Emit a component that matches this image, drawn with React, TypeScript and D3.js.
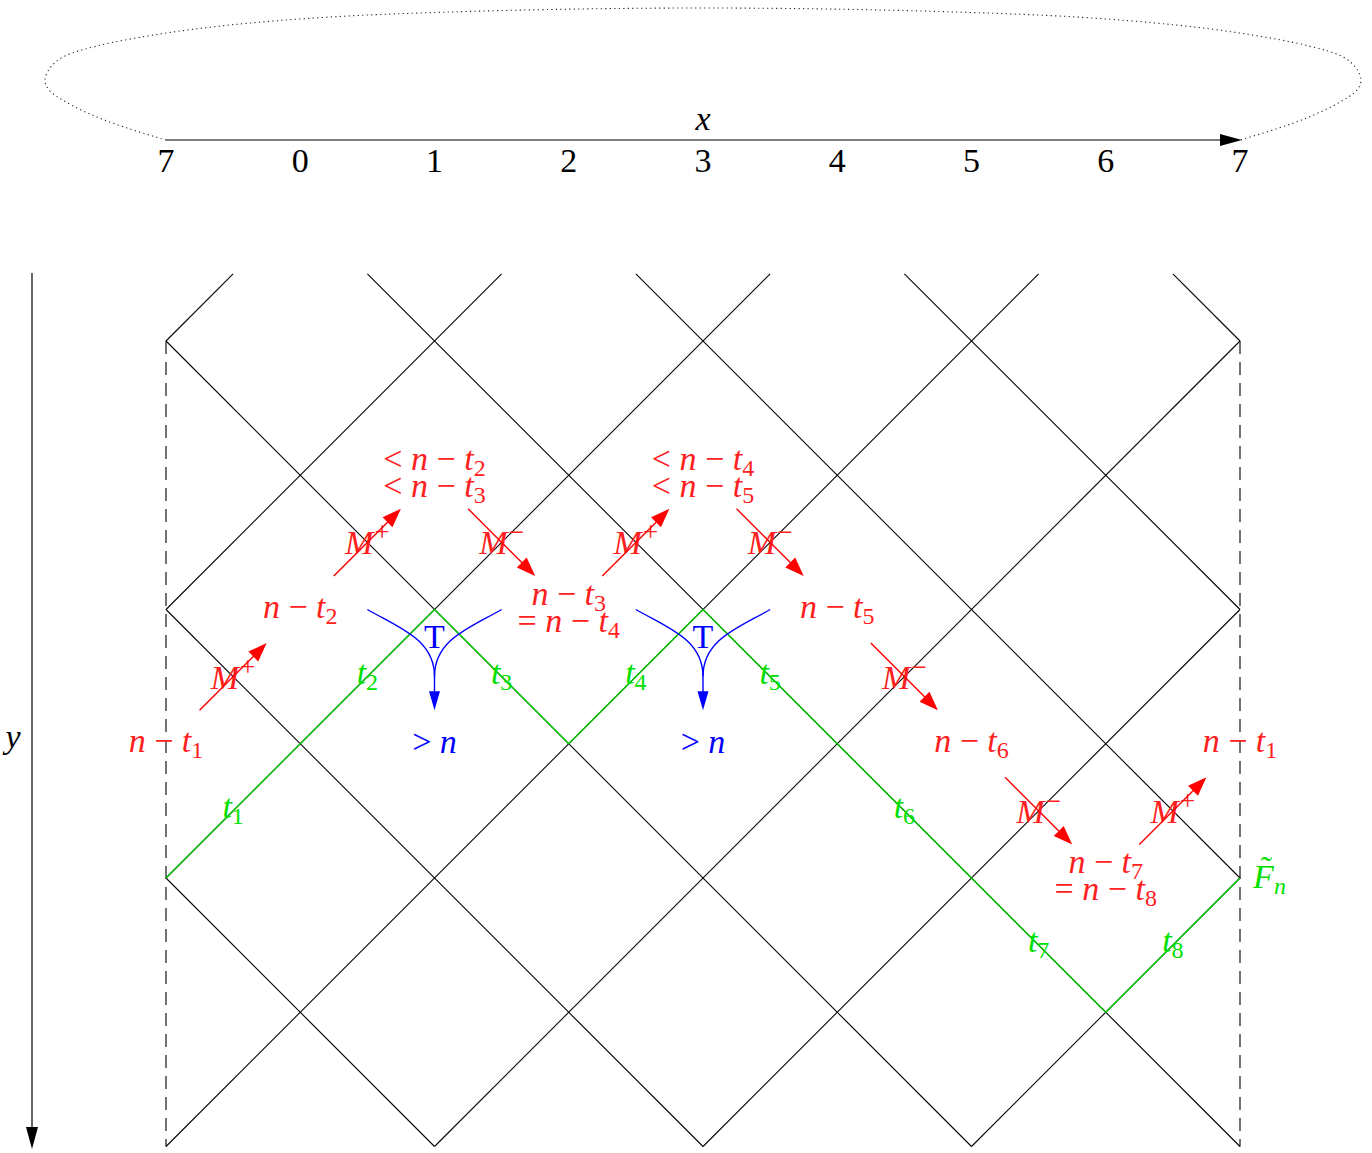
import * as d3 from "d3";

// top axis
const xTickLabels = ["7", "0", "1", "2", "3", "4", "5", "6", "7"];

// green path through the lattice (grid units) and its segment labels t_i
const greenPoints: [number, number][] = [
  [0, 4], [1, 3], [2, 2], [3, 3], [4, 2], [5, 3], [6, 4], [7, 5], [8, 4],
];
const greenLabels = ["1", "2", "3", "4", "5", "6", "7", "8"];

// red value nodes: [prefix, subscript] per line
const redNodes = [
  { x: 0, y: 3, lines: [["", "1"]] },
  { x: 1, y: 2, lines: [["", "2"]] },
  { x: 2, y: 1, lines: [["< ", "2"], ["< ", "3"]] },
  { x: 3, y: 2, lines: [["", "3"], ["= ", "4"]] },
  { x: 4, y: 1, lines: [["< ", "4"], ["< ", "5"]] },
  { x: 5, y: 2, lines: [["", "5"]] },
  { x: 6, y: 3, lines: [["", "6"]] },
  { x: 7, y: 4, lines: [["", "7"], ["= ", "8"]] },
  { x: 8, y: 3, lines: [["", "1"]] },
];

// M arrows: from (x0,y0) to (x1,y1), sign
const mArrows: [number, number, number, number, string][] = [
  [0.25, 2.75, 0.75, 2.25, "+"],
  [1.25, 1.75, 1.75, 1.25, "+"],
  [2.25, 1.25, 2.75, 1.75, "−"],
  [3.25, 1.75, 3.75, 1.25, "+"],
  [4.25, 1.25, 4.75, 1.75, "−"],
  [5.25, 2.25, 5.75, 2.75, "−"],
  [6.25, 3.25, 6.75, 3.75, "−"],
  [7.25, 3.75, 7.75, 3.25, "+"],
];

// T junctions (column of the peak)
const tNodes = [2, 4];

// dotted loop over the axis (left half, mirrored)
const loopLeft: [number, number][] = [
  [166, 140], [130, 129], [97, 117], [66, 102], [49, 90], [45, 80], [50, 68],
  [63, 57], [97, 46], [160, 34], [230, 25], [330, 17], [450, 12], [580, 9], [703, 8],
];

const FONT = "'Liberation Serif', 'Times New Roman', serif";
const FS = 34;
const SUB = 24;
const SUP = 27;

const xs = d3.scaleLinear().domain([0, 8]).range([166, 1240]);
const ys = d3.scaleLinear().domain([0, 6]).range([341, 1146.5]);
const axisX = d3.scaleLinear().domain([0, 8]).range([166, 1240]);

function head(tx: number, ty: number, dx: number, dy: number, L: number, W: number) {
  const n = Math.hypot(dx, dy);
  const ux = dx / n, uy = dy / n;
  const bx = tx - ux * L, by = ty - uy * L;
  return `M${tx},${ty}L${bx - uy * W},${by + ux * W}L${bx + uy * W},${by - ux * W}Z`;
}

const App = () => {
  // lattice lines
  const grid: [number, number, number, number][] = [];
  for (let c = 0; c <= 12; c += 2) {
    const a = Math.max(0, c - 6), b = Math.min(8, c + 0.5);
    if (b > a) grid.push([a, c - a, b, c - b]);
  }
  for (let c = -4; c <= 8; c += 2) {
    const a = Math.max(0, c - 0.5), b = Math.min(8, c + 6);
    if (b > a) grid.push([a, a - c, b, b - c]);
  }

  const greenLine = d3.line<[number, number]>().x((d) => xs(d[0])).y((d) => ys(d[1]));
  const loopPts = [...loopLeft, ...loopLeft.slice(0, -1).reverse().map(([x, y]) => [1406 - x, y] as [number, number])];
  const loopLine = d3.line<[number, number]>().curve(d3.curveCatmullRom);

  return (
    <svg width={1372} height={1153} style={{ position: "absolute", left: 0, top: 0, background: "#fff" }}>
      {/* dotted loop */}
      <path d={loopLine(loopPts) || ""} fill="none" stroke="#222" strokeWidth={1.1} strokeDasharray="1.2,3.3" />
      {/* x axis */}
      <line x1={axisX(0)} y1={140} x2={axisX(8) - 18} y2={140} stroke="#000" strokeWidth={1.2} />
      <path d={head(axisX(8) + 2, 140, 1, 0, 22, 6)} fill="#000" />
      <text x={axisX(4)} y={130} textAnchor="middle" fontFamily={FONT} fontStyle="italic" fontSize={FS}>x</text>
      {xTickLabels.map((t, i) => (
        <text key={i} x={axisX(i)} y={172} textAnchor="middle" fontFamily={FONT} fontSize={FS}>{t}</text>
      ))}
      {/* y axis */}
      <line x1={32} y1={273} x2={32} y2={1130} stroke="#000" strokeWidth={1.2} />
      <path d={head(32, 1149, 0, 1, 22, 6)} fill="#000" />
      <text x={13} y={748} textAnchor="middle" fontFamily={FONT} fontStyle="italic" fontSize={FS}>y</text>

      {/* lattice */}
      {grid.map(([x0, y0, x1, y1], i) => (
        <line key={i} x1={xs(x0)} y1={ys(y0)} x2={xs(x1)} y2={ys(y1)} stroke="#000" strokeWidth={1.1} />
      ))}
      {[0, 8].map((c) => (
        <line key={c} x1={xs(c)} y1={ys(0)} x2={xs(c)} y2={ys(6)} stroke="#000" strokeWidth={1.1} strokeDasharray="13,8" />
      ))}

      {/* green path */}
      <path d={greenLine(greenPoints) || ""} fill="none" stroke="#00cc00" strokeWidth={1.4} />
      {greenLabels.map((s, i) => {
        const mx = xs((greenPoints[i][0] + greenPoints[i + 1][0]) / 2);
        const my = ys((greenPoints[i][1] + greenPoints[i + 1][1]) / 2);
        return (
          <text key={i} x={mx} y={my + 7} textAnchor="middle" fontFamily={FONT} fontSize={FS} fill="#00e000">
            <tspan fontStyle="italic">t</tspan>
            <tspan fontSize={SUB} dy={6}>{s}</tspan>
          </text>
        );
      })}
      <text x={xs(8) + 13} y={ys(4) + 10} fontFamily={FONT} fontSize={FS} fill="#00e000">
        <tspan fontStyle="italic">F</tspan>
        <tspan dx={-13} dy={-8}>˜</tspan>
        <tspan fontSize={SUB} fontStyle="italic" dx={2} dy={14}>n</tspan>
      </text>

      {/* blue T junctions */}
      {tNodes.map((c) => {
        const cx = xs(c);
        const y0 = ys(2), y1 = ys(2.5), tip = ys(2.75);
        const dx = xs(c) - xs(c - 0.5);
        const k = 0.3915 * Math.hypot(dx, y1 - y0);
        const left = `M${cx - dx},${y0}C${cx - dx + k * 0.866},${y0 + k * 0.5} ${cx},${y1 - k} ${cx},${y1}`;
        const right = `M${cx + dx},${y0}C${cx + dx - k * 0.866},${y0 + k * 0.5} ${cx},${y1 - k} ${cx},${y1}`;
        return (
          <g key={c}>
            <path d={left} fill="none" stroke="#0000ff" strokeWidth={1.4} />
            <path d={right} fill="none" stroke="#0000ff" strokeWidth={1.4} />
            <line x1={cx} y1={y1} x2={cx} y2={tip - 15} stroke="#0000ff" strokeWidth={1.4} />
            <path d={head(cx, tip, 0, 1, 19, 5.5)} fill="#0000ff" />
            <text x={cx} y={648} textAnchor="middle" fontFamily={FONT} fontSize={FS} fill="#0000ff">T</text>
            <text x={cx} y={ys(3) + 9} textAnchor="middle" fontFamily={FONT} fontSize={FS} fill="#0000ff">
              <tspan>{"> "}</tspan>
              <tspan fontStyle="italic">n</tspan>
            </text>
          </g>
        );
      })}

      {/* red M arrows */}
      {mArrows.map(([a, b, c, d, s], i) => {
        const x0 = xs(a), y0 = ys(b), x1 = xs(c), y1 = ys(d);
        const ddx = x1 - x0, ddy = y1 - y0;
        const len = Math.hypot(ddx, ddy);
        const ex = x1 - (ddx / len) * 15, ey = y1 - (ddy / len) * 15;
        const mx = (x0 + x1) / 2, my = (y0 + y1) / 2;
        return (
          <g key={i}>
            <text x={mx} y={my + 12} textAnchor="middle" fontFamily={FONT} fontSize={FS} fill="#ff2020">
              <tspan fontStyle="italic">M</tspan>
              <tspan fontSize={SUP} dx={1} dy={-13}>{s}</tspan>
            </text>
            <line x1={x0} y1={y0} x2={ex} y2={ey} stroke="#ff0000" strokeWidth={1.4} />
            <path d={head(x1, y1, ddx, ddy, 19, 7)} fill="#ff0000" />
          </g>
        );
      })}

      {/* red nodes */}
      {redNodes.map((nd, i) => {
        const cx = xs(nd.x), cy = ys(nd.y);
        const base = nd.lines.length === 1 ? [cy + 8] : [cy - 5, cy + 22];
        return nd.lines.map(([pre, sub], j) => (
          <text key={`${i}-${j}`} x={cx} y={base[j]} textAnchor="middle" fontFamily={FONT} fontSize={FS} fill="#ff2020">
            {pre ? <tspan>{pre}</tspan> : null}
            <tspan fontStyle="italic">n</tspan>
            <tspan>{" − "}</tspan>
            <tspan fontStyle="italic">t</tspan>
            <tspan fontSize={SUB} dy={6}>{sub}</tspan>
          </text>
        ));
      })}
    </svg>
  );
};

export default App;
